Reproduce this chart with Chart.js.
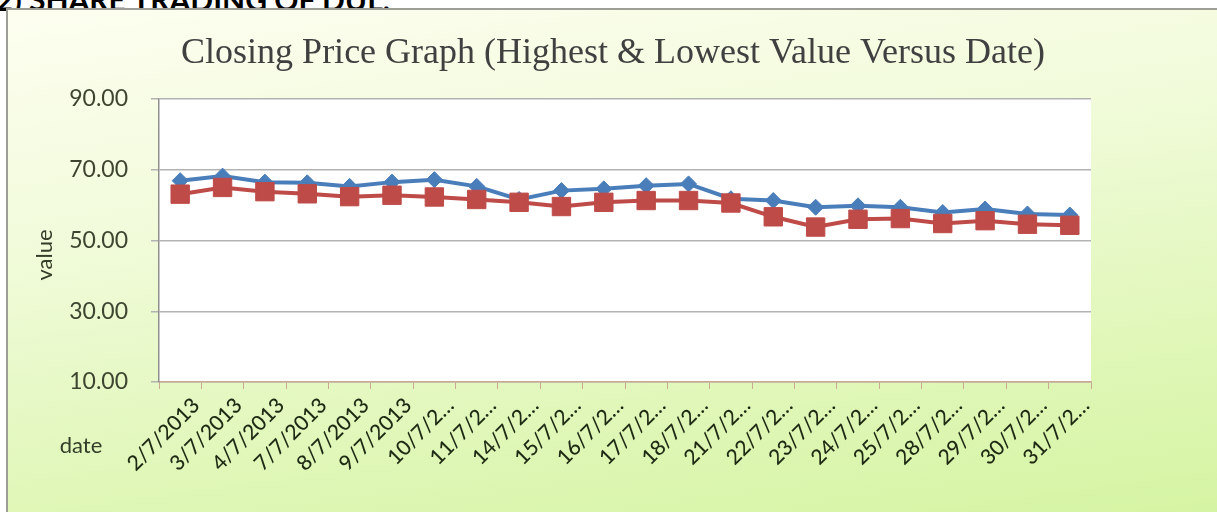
<!DOCTYPE html>
<html>
<head>
<meta charset="utf-8">
<script src="https://cdn.jsdelivr.net/npm/chart.js@4"></script>
<style>
  html, body { margin: 0; padding: 0; background: #fff; overflow: hidden; }
  #page { position: relative; width: 1217px; height: 512px; overflow: hidden; }
  #heading {
    position: absolute; left: -4px; top: -19px;
    font: bold 30px Lato, "Liberation Sans", sans-serif; color: #000; white-space: nowrap;
  }
  #box {
    position: absolute; left: 6px; top: 8px; width: 1230px; height: 520px;
    border: 2px solid #9d9f97;
    background: linear-gradient(172deg, #fdfef0 0%, #f1fbda 35%, #e0f7b9 70%, #d4f4a0 100%);
  }
  #chartWrap { position: absolute; left: 0; top: 0; width: 1217px; height: 512px; }
</style>
</head>
<body>
<div id="page">
  <div id="heading">2) SHARE TRADING OF DUL.</div>
  <div id="box"></div>
  <div id="chartWrap"><canvas id="priceChart" width="1217" height="512"></canvas></div>
</div>
<script>
// dates of the trading days (July 2013)
const dates = ['2/7/2013', '3/7/2013', '4/7/2013', '7/7/2013', '8/7/2013', '9/7/2013', '10/7/2013', '11/7/2013',
  '14/7/2013', '15/7/2013', '16/7/2013', '17/7/2013', '18/7/2013', '21/7/2013', '22/7/2013', '23/7/2013',
  '24/7/2013', '25/7/2013', '28/7/2013', '29/7/2013', '30/7/2013', '31/7/2013'];
// labels as they appear on the axis (Excel cut the long ones)
const tickLabels = ['2/7/2013', '3/7/2013', '4/7/2013', '7/7/2013', '8/7/2013', '9/7/2013', '10/7/2…', '11/7/2…',
  '14/7/2…', '15/7/2…', '16/7/2…', '17/7/2…', '18/7/2…', '21/7/2…', '22/7/2…', '23/7/2…',
  '24/7/2…', '25/7/2…', '28/7/2…', '29/7/2…', '30/7/2…', '31/7/2…'];
const highest = [66.9, 68.2, 66.5, 66.3, 65.3, 66.5, 67.2, 65.3, 61.6, 64.1, 64.6, 65.5,
  66.0, 61.8, 61.3, 59.4, 59.8, 59.4, 57.9, 58.9, 57.5, 57.2];
const lowest = [63.1, 65.0, 63.8, 63.2, 62.4, 62.8, 62.3, 61.6, 60.8, 59.6, 60.8, 61.3,
  61.3, 60.6, 56.7, 53.8, 56.0, 56.2, 54.8, 55.6, 54.6, 54.3];
const yTicks = [10, 30, 50, 70, 90];
const chartTitle = 'Closing Price Graph (Highest & Lowest Value Versus Date)';

const textColor = '#333d28';

// white plot area, title and axis titles placed like in the Excel chart
const plotBg = {
  id: 'plotBg',
  beforeDraw(chart) {
    const a = chart.chartArea;
    const c = chart.ctx;
    c.save();
    c.fillStyle = '#ffffff';
    c.fillRect(a.left, a.top, a.right - a.left, a.bottom - a.top);
    c.restore();
  },
  afterDraw(chart) {
    const c = chart.ctx;
    c.save();
    c.fillStyle = '#404040';
    c.font = '36px "Liberation Serif", "Times New Roman", serif';
    c.textAlign = 'center';
    c.textBaseline = 'alphabetic';
    c.fillText(chartTitle, 613, 63);
    c.restore();

    c.save();
    c.fillStyle = textColor;
    c.font = '22px Lato, "Liberation Sans", sans-serif';
    c.textAlign = 'center';
    c.textBaseline = 'middle';
    c.translate(45, 255);
    c.rotate(-Math.PI / 2);
    c.fillText('value', 0, 0);
    c.restore();

    c.save();
    c.fillStyle = textColor;
    c.font = '22px Lato, "Liberation Sans", sans-serif';
    c.textAlign = 'center';
    c.textBaseline = 'middle';
    c.fillText('date', 81, 446);
    c.restore();
  }
};

new Chart(document.getElementById('priceChart').getContext('2d'), {
  type: 'line',
  data: {
    labels: tickLabels,
    datasets: [
      {
        label: 'Highest',
        data: highest,
        borderColor: '#4a7ebb',
        backgroundColor: '#4a7ebb',
        borderWidth: 4,
        pointStyle: 'rectRot',
        pointRadius: 8,
        pointBorderWidth: 1,
        tension: 0,
        order: 1
      },
      {
        label: 'Lowest',
        data: lowest,
        borderColor: '#be4b48',
        backgroundColor: '#be4b48',
        borderWidth: 4,
        pointStyle: 'rect',
        pointRadius: 13,
        pointBorderWidth: 1,
        tension: 0,
        order: 0
      }
    ]
  },
  options: {
    responsive: false,
    animation: false,
    layout: { padding: { left: 0, right: 126, top: 99, bottom: 0 } },
    plugins: {
      legend: { display: false },
      tooltip: { enabled: false },
      title: { display: false }
    },
    scales: {
      x: {
        offset: true,
        grid: { offset: true, drawOnChartArea: false, drawTicks: true, tickLength: 7, color: '#c9a894' },
        border: { color: '#c9a894', width: 1.5 },
        ticks: {
          autoSkip: false, minRotation: 45, maxRotation: 45, padding: 4, labelOffset: 16,
          color: '#1f2a14',
          font: { family: 'Lato, "Liberation Sans", sans-serif', size: 21, weight: '500' }
        },
        afterFit(scale) { scale.height = 130; }
      },
      y: {
        min: 10,
        max: 90,
        afterBuildTicks(scale) { scale.ticks = yTicks.map(v => ({ value: v })); },
        grid: { color: '#b3b3b3', lineWidth: 1.5, tickLength: 8 },
        border: { color: '#8f8f8f', width: 1.5 },
        ticks: {
          padding: 23,
          color: '#3d4530',
          font: { family: 'Lato, "Liberation Sans", sans-serif', size: 23 },
          callback: v => Number(v).toFixed(2)
        },
        afterFit(scale) { scale.width = 159; }
      }
    }
  },
  plugins: [plotBg]
});
</script>
</body>
</html>
